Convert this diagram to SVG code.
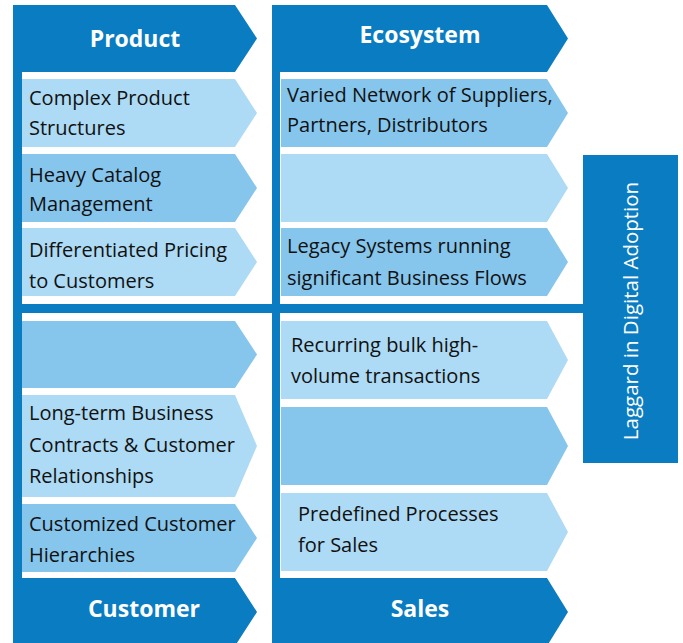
<svg xmlns="http://www.w3.org/2000/svg" width="683" height="643" viewBox="0 0 683 643">
<style>
.dark{fill:#0a7cc2}
.light{fill:#addaf4}
.mid{fill:#86c5ec}
.t{font-family:"Open Sans","Noto Sans","Liberation Sans",sans-serif;font-size:20px;fill:#111}
.h{font-family:"Open Sans","Noto Sans","Liberation Sans",sans-serif;font-size:23px;font-weight:bold;fill:#fff;text-anchor:middle}
.v{font-family:"Open Sans","Noto Sans","Liberation Sans",sans-serif;font-size:20.5px;fill:#fff;text-anchor:middle}
</style>
<rect width="683" height="643" fill="#fff"/>
<g id="frame">
<rect class="dark" x="13" y="5" width="9" height="610"/>
<rect class="dark" x="272" y="5" width="8" height="610"/>
<rect class="dark" x="13" y="304" width="570" height="9"/>
</g>
<g id="product">
<polygon class="dark" points="13,5 235,5 257,38.5 235,72 13,72"/>
<text class="h" x="135" y="47">Product</text>
</g>
<g id="ecosystem">
<polygon class="dark" points="272,5 547,5 568,38.5 547,72 272,72"/>
<text class="h" x="420" y="43">Ecosystem</text>
</g>
<g id="customer">
<polygon class="dark" points="13,578 235,578 257,612 235,646 13,646"/>
<text class="h" x="144" y="617">Customer</text>
</g>
<g id="sales">
<polygon class="dark" points="272,578 547,578 568,612 547,646 272,646"/>
<text class="h" x="420" y="617">Sales</text>
</g>
<g id="p1">
<polygon class="light" points="22,79 235,79 257,113 235,147 22,147"/>
<text class="t" x="29" y="105">Complex Product</text>
<text class="t" x="29" y="135">Structures</text>
</g>
<g id="p2">
<polygon class="mid" points="22,154 235,154 257,188 235,222 22,222"/>
<text class="t" x="29" y="182">Heavy Catalog</text>
<text class="t" x="29" y="211">Management</text>
</g>
<g id="p3">
<polygon class="light" points="22,228 235,228 257,262 235,296 22,296"/>
<text class="t" x="29" y="257">Differentiated Pricing</text>
<text class="t" x="29" y="288">to Customers</text>
</g>
<g id="e1">
<polygon class="mid" points="281,79 547,79 568,113 547,147 281,147"/>
<text class="t" x="287" y="102">Varied Network of Suppliers,</text>
<text class="t" x="287" y="132">Partners, Distributors</text>
</g>
<g id="e2">
<polygon class="light" points="281,154 547,154 568,188 547,222 281,222"/>
</g>
<g id="e3">
<polygon class="mid" points="281,228 547,228 568,262 547,296 281,296"/>
<text class="t" x="287" y="253">Legacy Systems running</text>
<text class="t" x="287" y="285">significant Business Flows</text>
</g>
<g id="c1">
<polygon class="mid" points="22,321 235,321 257,354.5 235,388 22,388"/>
</g>
<g id="c2">
<polygon class="light" points="22,395 235,395 257,446 235,497 22,497"/>
<text class="t" x="29" y="420">Long-term Business</text>
<text class="t" x="29" y="452">Contracts &amp; Customer</text>
<text class="t" x="29" y="483">Relationships</text>
</g>
<g id="c3">
<polygon class="mid" points="22,504 235,504 257,538 235,572 22,572"/>
<text class="t" x="29" y="531">Customized Customer</text>
<text class="t" x="29" y="562">Hierarchies</text>
</g>
<g id="s1">
<polygon class="light" points="281,321 547,321 568,360 547,399 281,399"/>
<text class="t" x="291" y="352">Recurring bulk high-</text>
<text class="t" x="291" y="383">volume transactions</text>
</g>
<g id="s2">
<polygon class="mid" points="281,407 547,407 568,446 547,485 281,485"/>
</g>
<g id="s3">
<polygon class="light" points="281,493 547,493 568,532 547,571 281,571"/>
<text class="t" x="298" y="521">Predefined Processes</text>
<text class="t" x="298" y="552">for Sales</text>
</g>
<g id="laggard">
<rect class="dark" x="583" y="155" width="95" height="308"/>
<text class="v" transform="translate(638,311) rotate(-90)">Laggard in Digital Adoption</text>
</g>
<g id="connectors"></g>
</svg>
